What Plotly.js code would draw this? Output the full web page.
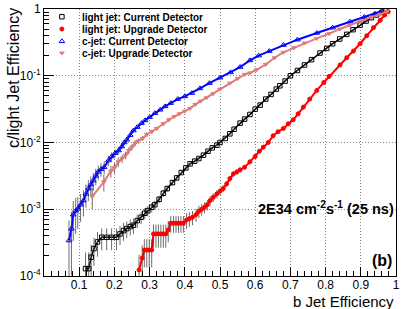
<!DOCTYPE html>
<html><head><meta charset="utf-8">
<script src="https://cdn.plot.ly/plotly-3.0.1.min.js"></script>
<style>html,body{margin:0;padding:0;background:#fff;}#chart{width:407px;height:309px;}</style>
</head><body><div id="chart"></div>
<script>
// light jet: Current Detector (black open squares)
const lightCurX = [0.118,0.127,0.134,0.142,0.152,0.164,0.178,0.192,0.206,0.216,0.226,0.235,0.245,0.254,0.265,0.276,0.286,0.295,0.306,0.315,0.327,0.339,0.350,0.365,0.377,0.390,0.403,0.415,0.428,0.440,0.453,0.466,0.478,0.491,0.500,0.515,0.528,0.540,0.557,0.570,0.585,0.600,0.614,0.630,0.645,0.660,0.670,0.685,0.700,0.720,0.740,0.760,0.784,0.803,0.820,0.840,0.860,0.878,0.898,0.915,0.930,0.945,0.960,0.970];
const lightCurY = [1.29e-4,1.29e-4,1.91e-4,2.57e-4,3.24e-4,3.80e-4,3.80e-4,3.80e-4,3.80e-4,4.27e-4,4.79e-4,5.13e-4,5.50e-4,5.75e-4,6.76e-4,7.59e-4,8.71e-4,9.55e-4,1.07e-3,1.17e-3,1.41e-3,1.74e-3,2.04e-3,2.51e-3,2.95e-3,3.55e-3,4.17e-3,4.79e-3,5.25e-3,5.75e-3,6.46e-3,7.41e-3,8.32e-3,9.12e-3,1.00e-2,1.15e-2,1.35e-2,1.58e-2,1.95e-2,2.24e-2,2.63e-2,3.16e-2,3.63e-2,4.47e-2,5.25e-2,6.31e-2,7.08e-2,8.32e-2,0.100,0.120,0.145,0.174,0.219,0.257,0.302,0.355,0.417,0.490,0.575,0.661,0.741,0.813,0.891,0.933];
const lightCurRelErr = [0.75,0.75,0.55,0.45,0.40,0.36,0.36,0.36,0.36,0.32,0.30,0.28,0.27,0.26,0.23,0.21,0.19,0.18,0.16,0.15,0.13,0.12,0.10,0.09,0.08,0.07,0.065,0.06,0.055,0.05,0.045,0.04,0.04,0.035,0.03,0.03,0.025,0.025,0.02,0.02,0.02,0.015,0.015,0.015,0.012,0.012,0.01,0.01,0.01,0.008,0.008,0.008,0.006,0.006,0.006,0.005,0.005,0.004,0.004,0.004,0.003,0.003,0.003,0.003];

// light jet: Upgrade Detector (red filled circles)
const lightUpgX = [0.270,0.279,0.285,0.292,0.299,0.306,0.311,0.318,0.325,0.332,0.339,0.346,0.353,0.360,0.368,0.375,0.382,0.389,0.396,0.405,0.413,0.422,0.432,0.440,0.448,0.456,0.464,0.472,0.481,0.491,0.500,0.509,0.519,0.528,0.538,0.548,0.557,0.570,0.585,0.600,0.612,0.623,0.637,0.651,0.665,0.680,0.694,0.708,0.722,0.737,0.755,0.775,0.795,0.810,0.841,0.860,0.879,0.898,0.917,0.936,0.955,0.968,0.978];
const lightUpgY = [1.23e-4,1.86e-4,2.45e-4,2.45e-4,2.45e-4,2.45e-4,4.27e-4,4.27e-4,4.27e-4,4.27e-4,4.27e-4,4.27e-4,4.90e-4,6.17e-4,6.17e-4,6.17e-4,6.17e-4,6.17e-4,6.17e-4,6.92e-4,7.24e-4,7.59e-4,8.32e-4,9.33e-4,1.00e-3,1.07e-3,1.17e-3,1.35e-3,1.51e-3,1.70e-3,1.86e-3,2.04e-3,2.40e-3,2.88e-3,3.39e-3,3.63e-3,3.89e-3,4.27e-3,5.13e-3,6.17e-3,7.41e-3,8.51e-3,1.00e-2,1.26e-2,1.45e-2,1.62e-2,1.91e-2,2.19e-2,2.69e-2,3.39e-2,4.47e-2,6.03e-2,7.94e-2,9.77e-2,0.145,0.186,0.234,0.302,0.398,0.525,0.676,0.813,0.912];
const lightUpgRelErr = [0.70,0.55,0.45,0.45,0.45,0.45,0.38,0.38,0.38,0.38,0.38,0.38,0.35,0.28,0.28,0.28,0.28,0.28,0.28,0.26,0.25,0.24,0.22,0.21,0.20,0.19,0.18,0.16,0.15,0.14,0.13,0.12,0.11,0.10,0.09,0.09,0.08,0.08,0.07,0.06,0.055,0.05,0.045,0.04,0.04,0.035,0.03,0.03,0.025,0.025,0.02,0.02,0.015,0.015,0.012,0.01,0.01,0.008,0.008,0.006,0.005,0.005,0.004];

// c-jet: Current Detector (blue open triangles)
const cCurX = [0.071,0.078,0.083,0.090,0.096,0.104,0.112,0.119,0.126,0.133,0.140,0.147,0.154,0.162,0.171,0.183,0.192,0.202,0.212,0.221,0.228,0.235,0.245,0.254,0.265,0.277,0.287,0.300,0.315,0.330,0.344,0.360,0.380,0.400,0.420,0.443,0.470,0.500,0.530,0.557,0.585,0.610,0.640,0.680,0.720,0.775,0.820,0.869,0.910,0.940,0.960];
const cCurY = [3.4e-4,5.1e-4,8.3e-4,9.5e-4,1.02e-3,1.17e-3,1.35e-3,1.70e-3,2.04e-3,2.34e-3,2.69e-3,3.16e-3,3.63e-3,3.98e-3,4.27e-3,5.37e-3,6.17e-3,6.92e-3,7.59e-3,8.71e-3,1.00e-2,1.10e-2,1.29e-2,1.51e-2,1.70e-2,1.95e-2,2.14e-2,2.40e-2,2.75e-2,3.09e-2,3.47e-2,3.89e-2,4.47e-2,4.90e-2,5.50e-2,6.46e-2,7.76e-2,9.33e-2,0.112,0.135,0.170,0.200,0.234,0.288,0.347,0.437,0.525,0.646,0.759,0.851,0.933];
const cCurRelErr = [1.0,0.80,0.60,0.55,0.50,0.45,0.42,0.38,0.35,0.32,0.30,0.28,0.25,0.23,0.22,0.18,0.15,0.13,0.12,0.10,0.09,0.08,0.07,0.06,0.05,0.045,0.04,0.035,0.03,0.03,0.025,0.025,0.02,0.02,0.02,0.015,0.015,0.012,0.01,0.01,0.008,0.008,0.006,0.006,0.005,0.005,0.004,0.004,0.003,0.003,0.003];

// c-jet: Upgrade Detector (pink triangles)
const cUpgX = [0.137,0.170,0.190,0.200,0.211,0.222,0.232,0.241,0.250,0.259,0.268,0.280,0.292,0.306,0.320,0.339,0.355,0.370,0.385,0.400,0.415,0.430,0.445,0.462,0.480,0.500,0.528,0.550,0.570,0.585,0.604,0.630,0.655,0.680,0.710,0.740,0.775,0.810,0.840,0.869,0.900,0.930,0.955,0.974];
const cUpgY = [1.55e-3,2.57e-3,3.72e-3,4.17e-3,5.13e-3,5.75e-3,6.46e-3,7.59e-3,8.51e-3,9.77e-3,1.05e-2,1.15e-2,1.32e-2,1.45e-2,1.62e-2,1.91e-2,2.19e-2,2.45e-2,2.69e-2,2.95e-2,3.24e-2,3.72e-2,4.17e-2,4.68e-2,5.37e-2,6.31e-2,7.76e-2,9.12e-2,0.105,0.110,0.123,0.148,0.186,0.224,0.263,0.309,0.363,0.427,0.501,0.575,0.661,0.759,0.832,0.912];
const cUpgRelErr = [0.35,0.28,0.20,0.18,0.16,0.14,0.13,0.12,0.11,0.10,0.09,0.08,0.08,0.07,0.06,0.06,0.05,0.05,0.04,0.04,0.035,0.03,0.03,0.025,0.025,0.02,0.02,0.015,0.015,0.015,0.012,0.01,0.01,0.008,0.008,0.006,0.006,0.005,0.005,0.004,0.004,0.003,0.003,0.003];

const seriesNames = ['light jet: Current Detector','light jet: Upgrade Detector','c-jet: Current Detector','c-jet: Upgrade Detector'];
const xTickVals = [0.1,0.2,0.3,0.4,0.5,0.6,0.7,0.8,0.9,1];
const xTickText = ['0.1','0.2','0.3','0.4','0.5','0.6','0.7','0.8','0.9','1'];
const yTickVals = [1e-4,1e-3,1e-2,1e-1,1];
const yTickText = ['10<sup>-4</sup>','10<sup>-3</sup>','10<sup>-2</sup>','10<sup>-1</sup>','1'];
const yMinorVals = [2e-4,3e-4,4e-4,5e-4,6e-4,7e-4,8e-4,9e-4,2e-3,3e-3,4e-3,5e-3,6e-3,7e-3,8e-3,9e-3,2e-2,3e-2,4e-2,5e-2,6e-2,7e-2,8e-2,9e-2,0.2,0.3,0.4,0.5,0.6,0.7,0.8,0.9];

const FONT = 'Liberation Sans, Arial, Helvetica, sans-serif';
const errColor = 'rgba(60,60,60,0.75)';

function mk(x, y, rel, name, color, symbol, size, lineW, legendId) {
  const err = y.map((v, i) => v * rel[i]);
  return [
    {x: x, y: y, mode: 'lines', line: {color: color, width: lineW}, showlegend: false, hoverinfo: 'skip'},
    {x: x, y: y, mode: 'markers', name: name, legend: legendId,
     marker: {symbol: symbol, size: size, color: color, line: {color: color, width: 1}},
     error_y: {type: 'data', array: err, visible: true, color: errColor, thickness: 1, width: 0}}
  ];
}

const data = [].concat(
  mk(lightCurX, lightCurY, lightCurRelErr, seriesNames[0], '#000000', 'square-open', 4.5, 1.5, 'legend'),
  mk(lightUpgX, lightUpgY, lightUpgRelErr, seriesNames[1], '#ff0000', 'circle', 4, 2, 'legend2'),
  mk(cCurX, cCurY, cCurRelErr, seriesNames[2], '#0000ff', 'triangle-up-open', 5, 2, 'legend3'),
  mk(cUpgX, cUpgY, cUpgRelErr, seriesNames[3], '#e07b7b', 'triangle-down', 4, 2, 'legend4')
);

const PLOT_H = 267;
function py(p) { return (276 - p) / PLOT_H; }
const legBase = {x: -0.006, xanchor: 'left', yanchor: 'middle', bgcolor: 'rgba(0,0,0,0)', borderwidth: 0,
  font: {family: FONT, size: 10, color: '#000', weight: 'bold'}, itemwidth: 30};

const layout = {
  width: 407, height: 309,
  margin: {l: 44, r: 11, t: 9, b: 33, pad: 0, autoexpand: false},
  paper_bgcolor: '#ffffff', plot_bgcolor: '#ffffff',
  font: {family: FONT, color: '#000'},
  showlegend: true,
  legend: Object.assign({}, legBase, {y: py(16.7)}),
  legend2: Object.assign({}, legBase, {y: py(29.0)}),
  legend3: Object.assign({}, legBase, {y: py(41.3)}),
  legend4: Object.assign({}, legBase, {y: py(53.0)}),
  xaxis: {
    range: [0, 1], tickmode: 'array', tickvals: xTickVals, ticktext: xTickText,
    ticks: 'inside', ticklen: 9, tickwidth: 1, tickcolor: '#000',
    showline: true, linecolor: '#000', linewidth: 1, mirror: true,
    showgrid: true, gridcolor: '#888', griddash: '1px,2px', gridwidth: 1, zeroline: false,
    tickfont: {family: FONT, size: 12, color: '#000'}, ticklabelstandoff: -2,
    minor: {tickmode: 'linear', tick0: 0, dtick: 0.02, ticks: 'inside', ticklen: 5, tickcolor: '#000', showgrid: false}
  },
  yaxis: {
    type: 'log', range: [-4, 0], tickmode: 'array', tickvals: yTickVals, ticktext: yTickText,
    ticks: 'inside', ticklen: 10, tickwidth: 1, tickcolor: '#000',
    showline: true, linecolor: '#000', linewidth: 1, mirror: true,
    showgrid: true, gridcolor: '#888', griddash: '1px,2px', gridwidth: 1, zeroline: false,
    tickfont: {family: FONT, size: 12, color: '#000'},
    minor: {tickmode: 'array', tickvals: yMinorVals, ticks: 'inside', ticklen: 5, tickcolor: '#000', showgrid: false}
  },
  annotations: [
    {xref: 'paper', yref: 'paper', x: 1.0, y: py(301), xanchor: 'right', yanchor: 'middle', showarrow: false,
     text: 'b Jet Efficiency', font: {family: FONT, size: 15, color: '#000'}},
    {xref: 'paper', yref: 'paper', x: (13 - 44) / 352, y: py(6), xanchor: 'center', yanchor: 'top', showarrow: false,
     textangle: -90, text: 'c/light Jet Efficiency', font: {family: FONT, size: 16, color: '#000'}},
    {xref: 'paper', yref: 'paper', x: (396 - 44) / 352, y: py(208), xanchor: 'right', yanchor: 'middle', showarrow: false,
     text: '2E34 cm<sup>-2</sup>s<sup>-1</sup> (25 ns)', font: {family: FONT, size: 14.5, color: '#000', weight: 'bold'}},
    {xref: 'paper', yref: 'paper', x: (394 - 44) / 352, y: py(260), xanchor: 'right', yanchor: 'middle', showarrow: false,
     text: '(b)', font: {family: FONT, size: 16, color: '#000', weight: 'bold'}}
  ]
};

Plotly.newPlot('chart', data, layout, {displayModeBar: false, staticPlot: true});
</script>
</body></html>
